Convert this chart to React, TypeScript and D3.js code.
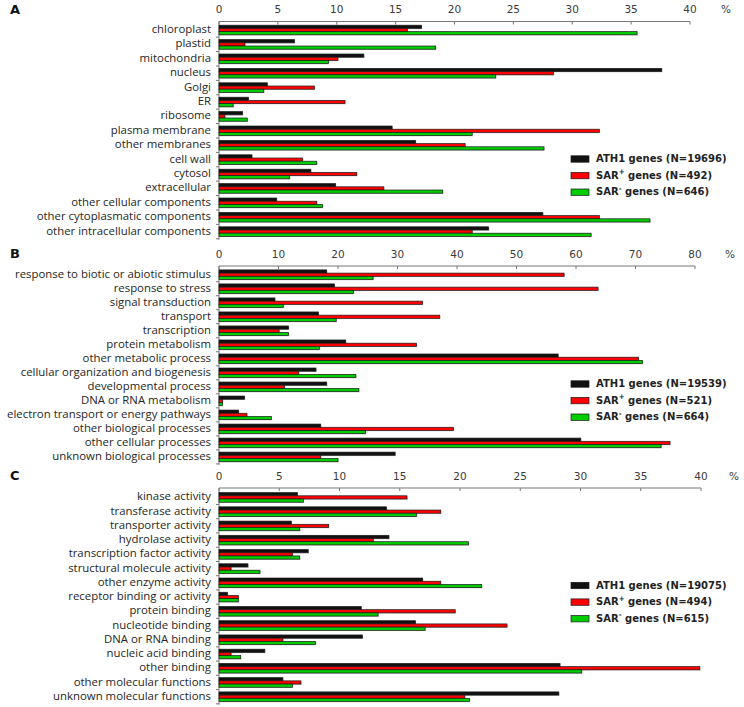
import React from "react";
import * as d3 from "d3";

// ---------- DATA ----------
const categoriesA = [
  "chloroplast", "plastid", "mitochondria", "nucleus", "Golgi", "ER", "ribosome",
  "plasma membrane", "other membranes", "cell wall", "cytosol", "extracellular",
  "other cellular components", "other cytoplasmatic components", "other intracellular components",
];
const ath1A = [17.2, 6.4, 12.3, 37.6, 4.1, 2.5, 2.0, 14.7, 16.7, 2.8, 7.8, 9.9, 4.9, 27.5, 22.9];
const sarPlusA = [16.0, 2.2, 10.1, 28.4, 8.1, 10.7, 0.5, 32.3, 20.9, 7.1, 11.7, 14.0, 8.3, 32.3, 21.5];
const sarMinusA = [35.5, 18.4, 9.3, 23.5, 3.8, 1.2, 2.4, 21.5, 27.6, 8.3, 6.0, 19.0, 8.8, 36.6, 31.6];
const ticksA = [0, 5, 10, 15, 20, 25, 30, 35, 40];
const legendNA = ["19696", "492", "646"];

const categoriesB = [
  "response to biotic or abiotic stimulus", "response to stress", "signal transduction",
  "transport", "transcription", "protein metabolism ", "other metabolic process",
  "cellular organization and biogenesis", "developmental process", "DNA or RNA metabolism",
  "electron transport or energy pathways", "other biological processes",
  "other cellular processes", "unknown biological processes",
];
const ath1B = [18.1, 19.4, 9.4, 16.7, 11.7, 21.3, 57.0, 16.3, 18.1, 4.3, 3.3, 17.1, 60.8, 29.6];
const sarPlusB = [58.0, 63.7, 34.2, 37.1, 10.1, 33.2, 70.5, 13.4, 11.0, 0.6, 4.7, 39.4, 75.8, 17.1];
const sarMinusB = [25.9, 22.6, 10.8, 19.7, 11.7, 16.9, 71.2, 23.0, 23.5, 0.6, 8.8, 24.6, 74.3, 20.0];
const ticksB = [0, 10, 20, 30, 40, 50, 60, 70, 80];
const legendNB = ["19539", "521", "664"];

const categoriesC = [
  "kinase activity", "transferase activity", "transporter activity", "hydrolase activity",
  "transcription factor activity", "structural molecule activity", "other enzyme activity",
  "receptor binding or activity", "protein binding", "nucleotide binding", "DNA or RNA binding",
  "nucleic acid binding", "other binding", "other molecular functions", "unknown molecular functions",
];
const ath1C = [6.5, 13.9, 6.0, 14.1, 7.4, 2.4, 16.9, 0.7, 11.8, 16.3, 11.9, 3.8, 28.3, 5.3, 28.2];
const sarPlusC = [15.6, 18.4, 9.1, 12.8, 6.1, 1.0, 18.4, 1.6, 19.6, 23.9, 5.3, 1.0, 39.9, 6.8, 20.4];
const sarMinusC = [7.0, 16.4, 6.7, 20.7, 6.7, 3.4, 21.8, 1.6, 13.2, 17.1, 8.0, 1.8, 30.1, 6.1, 20.8];
const ticksC = [0, 5, 10, 15, 20, 25, 30, 35, 40];
const legendNC = ["19075", "494", "615"];

const panelLetters = ["A", "B", "C"];
const seriesNames = ["ATH1 genes", "SAR", "SAR"];
const seriesSup = ["", "+", "-"];
const seriesColors = ["#111111", "#ff0000", "#00cc00"];

// ---------- LAYOUT ----------
const W = 744;
const H = 707;
const X0 = 219;

type Panel = {
  letter: string;
  cats: string[];
  series: number[][];
  ticks: number[];
  ns: string[];
  xEnd: number;
  axisY: number;
  firstRow: number;
  lastRow: number;
  legendY: number;
  pctX: number;
};

const panels: Panel[] = [
  {
    letter: panelLetters[0], cats: categoriesA, series: [ath1A, sarPlusA, sarMinusA],
    ticks: ticksA, ns: legendNA, xEnd: 690, axisY: 21.5, firstRow: 30, lastRow: 231.6,
    legendY: 159, pctX: 726,
  },
  {
    letter: panelLetters[1], cats: categoriesB, series: [ath1B, sarPlusB, sarMinusB],
    ticks: ticksB, ns: legendNB, xEnd: 695, axisY: 266, firstRow: 274.7, lastRow: 456.9,
    legendY: 384, pctX: 730,
  },
  {
    letter: panelLetters[2], cats: categoriesC, series: [ath1C, sarPlusC, sarMinusC],
    ticks: ticksC, ns: legendNC, xEnd: 701, axisY: 488, firstRow: 497.4, lastRow: 696.7,
    legendY: 585.5, pctX: 734,
  },
];

const labelFont = "'Open Sans', sans-serif";
const tickFont = "'DejaVu Sans', Verdana, sans-serif";

function PanelView({ p }: { p: Panel }) {
  const maxV = p.ticks[p.ticks.length - 1];
  const x = d3.scaleLinear().domain([0, maxV]).range([X0, p.xEnd]);
  const y = d3.scalePoint<string>().domain(p.cats).range([p.firstRow, p.lastRow]);
  const step = y.step();
  const barH = 3.2;
  const bottom = p.lastRow + step / 2 + 1;
  const boundaries = p.cats.map((c) => (y(c) as number) + step / 2);

  return (
    <g>
      <text x={10} y={p.axisY - 8} fontFamily={tickFont} fontWeight="bold" fontSize={13} fill="#111">
        {p.letter}
      </text>
      {/* top axis */}
      <line x1={X0} x2={p.xEnd} y1={p.axisY} y2={p.axisY} stroke="#777" strokeWidth={1} />
      {p.ticks.map((t) => (
        <g key={t}>
          <line x1={x(t)} x2={x(t)} y1={p.axisY} y2={p.axisY + 3} stroke="#777" strokeWidth={1} />
          <text
            x={x(t)}
            y={p.axisY - 11.5}
            textAnchor="middle"
            dominantBaseline="middle"
            fontFamily={tickFont}
            fontSize={10.5}
            fill="#3a3a3a"
          >
            {t}
          </text>
        </g>
      ))}
      <text
        x={p.pctX}
        y={p.axisY - 11.5}
        textAnchor="middle"
        dominantBaseline="middle"
        fontFamily={tickFont}
        fontSize={10.5}
        fill="#3a3a3a"
      >
        %
      </text>
      {/* left axis */}
      <line x1={X0} x2={X0} y1={p.axisY} y2={bottom} stroke="#777" strokeWidth={1} />
      {boundaries.map((b, i) => (
        <line key={i} x1={X0 - 3} x2={X0} y1={b} y2={b} stroke="#777" strokeWidth={1} />
      ))}
      {/* category labels */}
      {p.cats.map((c) => (
        <text
          key={c}
          x={X0 - 8}
          y={y(c) as number}
          textAnchor="end"
          dominantBaseline="middle"
          fontFamily={labelFont}
          fontSize={11.4}
          fill="#262626"
        >
          {c}
        </text>
      ))}
      {/* bars */}
      {p.cats.map((c, ci) => {
        const cy = y(c) as number;
        const top = cy - (barH * 3) / 2;
        return (
          <g key={c}>
            {p.series.map((s, si) => {
              const w = x(s[ci]) - X0;
              return (
                <g key={si}>
                  <rect
                    x={X0 + 0.8}
                    y={top + si * barH + 0.8}
                    width={Math.max(w, 0)}
                    height={barH}
                    fill="#aaa"
                    opacity={0.6}
                  />
                  <rect
                    x={X0}
                    y={top + si * barH}
                    width={Math.max(w, 0)}
                    height={barH}
                    fill={seriesColors[si]}
                    stroke="#1a1a1a"
                    strokeWidth={0.7}
                  />
                </g>
              );
            })}
          </g>
        );
      })}
      {/* legend */}
      {seriesNames.map((n, i) => {
        const ly = p.legendY + i * 16.6;
        return (
          <g key={i}>
            <rect x={571} y={ly - 3.2} width={18} height={6.4} fill={seriesColors[i]} stroke="#1a1a1a" strokeWidth={0.7} />
            <text
              x={596}
              y={ly}
              dominantBaseline="middle"
              fontFamily={tickFont}
              fontWeight="bold"
              fontSize={10}
              fill="#222"
            >
              {n}
              {seriesSup[i] ? (
                <tspan fontSize={7} dy={-3.5}>
                  {seriesSup[i]}
                </tspan>
              ) : null}
              <tspan dy={seriesSup[i] ? 3.5 : 0}>
                {(seriesSup[i] ? " genes" : "") + " (N=" + p.ns[i] + ")"}
              </tspan>
            </text>
          </g>
        );
      })}
    </g>
  );
}

export default function App() {
  return (
    <svg
      width={W}
      height={H}
      viewBox={`0 0 ${W} ${H}`}
      style={{ position: "absolute", left: 0, top: 0, background: "#fff" }}
    >
      <rect x={0} y={0} width={W} height={H} fill="#fff" />
      {panels.map((p) => (
        <PanelView key={p.letter} p={p} />
      ))}
    </svg>
  );
}
